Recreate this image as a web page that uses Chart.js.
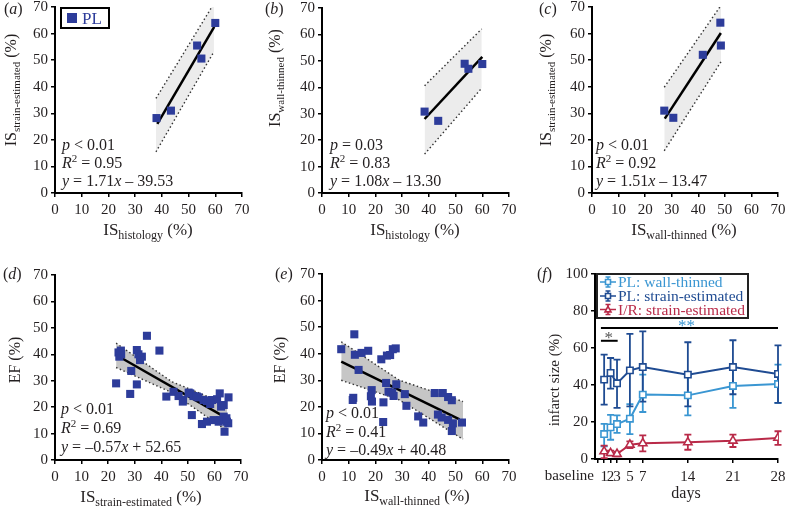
<!DOCTYPE html>
<html><head><meta charset="utf-8">
<script src="https://cdn.jsdelivr.net/npm/chart.js@4.4.1/dist/chart.umd.min.js"></script>
<style>
html,body{margin:0;padding:0;background:#fff;}
#wrap{position:relative;width:785px;height:511px;overflow:hidden;background:#fff;}
canvas{position:absolute;}
</style></head><body><div id="wrap"></div>
<script>
// ===== data =====
// (a) IS histology vs IS strain-estimated
const aX = [38.0, 43.4, 53.2, 54.8, 60.0];
const aY = [28.2, 31.0, 55.5, 50.6, 64.0];
const aFitX = [38.3, 59.6], aFitY = [26.0, 62.5];
const aCiX = [37.8, 59.5], aCiHi = [35.6, 71.3], aCiLo = [15.5, 53.2];
// (b) IS histology vs IS wall-thinned
const bX = [38.4, 43.5, 53.4, 54.8, 60.0];
const bY = [30.8, 27.3, 48.9, 47.0, 48.8];
const bFitX = [38.4, 60.0], bFitY = [28.0, 51.5];
const bCiX = [38.4, 59.8], bCiHi = [40.6, 62.1], bCiLo = [14.7, 39.7];
// (c) IS wall-thinned vs IS strain-estimated
const cX = [27.2, 30.6, 41.7, 48.3, 48.5];
const cY = [31.0, 28.3, 52.0, 64.1, 55.5];
const cFitX = [27.4, 48.5], cFitY = [28.0, 60.2];
const cCiX = [27.2, 48.6], cCiHi = [39.8, 70.7], cCiLo = [15.9, 49.5];
// (d) IS strain-estimated vs EF
const dX = [34.6,23.9,24.9,24.2,24.8,30.8,31.4,32.7,32.0,39.3,28.7,23.0,30.8,28.3,41.9,44.6,46.5,48.2,50.9,52.1,54.0,55.9,57.2,59.1,61.0,62.0,65.3,63.5,51.5,55.3,57.2,59.7,62.2,63.5,64.7,63.8,65.2,50.3,53.4,58.4,62.5,64.5,61.6,48.1];
const dY = [47.0,40.7,40.0,39.1,41.4,41.6,40.0,39.1,37.8,41.4,33.7,29.0,28.6,25.0,24.0,25.8,24.2,22.7,25.2,24.2,23.7,22.7,22.3,22.7,23.0,25.2,23.7,20.8,17.0,13.6,14.5,15.1,15.1,16.4,14.5,10.7,13.9,25.5,24.0,21.2,20.2,15.8,14.5,22.1];
const dFitX = [25.5, 62.8], dFitY = [38.3, 16.9];
const dCiX = [23.0, 44.0, 64.8], dCiHi = [44.2, 29.6, 21.0], dCiLo = [35.0, 25.5, 11.0];
// (e) IS wall-thinned vs EF
const eX = [7.2,12.1,12.3,14.8,17.3,13.7,11.7,11.5,18.6,18.3,18.7,22.2,23.0,22.9,24.3,25.5,26.5,27.6,24.0,24.9,26.3,26.8,27.8,31.0,31.6,36.0,37.9,42.2,45.2,43.4,44.8,47.2,48.6,47.2,49.0,48.6,52.4];
const eY = [41.7,47.3,39.6,40.3,41.1,33.9,23.4,22.6,26.3,24.0,22.0,37.9,21.7,14.3,39.3,39.5,41.7,42.0,29.0,25.7,25.3,24.1,28.5,24.8,20.4,16.4,14.1,25.2,25.2,17.1,16.0,23.7,22.5,15.1,13.8,10.9,14.1];
const eFitX = [7.2, 51.5], eFitY = [37.0, 15.3];
const eCiX = [7.2, 29.0, 52.8], eCiHi = [44.5, 30.0, 22.0], eCiLo = [30.0, 22.6, 7.8];
// (f) infarct size over time
const fDays = [1, 2, 3, 5, 7, 14, 21, 28];
const fTicks = [0, 1, 2, 3, 5, 7, 14, 21, 28];
const wallMean = [13.5, 17.1, 18.9, 21.8, 34.8, 34.4, 39.5, 40.5];
const wallLo   = [6.8, 10.4, 14.1, 13.5, 25.4, 23.6, 27.6, 30.3];
const wallHi   = [19.0, 23.9, 23.6, 29.7, 45.6, 45.2, 50.5, 51.0];
const strainMean = [42.9, 46.5, 40.9, 47.9, 49.7, 45.6, 49.7, 46.0];
const strainLo   = [29.4, 38.0, 27.6, 28.5, 31.0, 28.5, 35.0, 30.3];
const strainHi   = [56.4, 54.6, 53.7, 67.6, 69.0, 63.1, 64.2, 61.4];
const irMean = [4.1, 3.2, 2.7, 7.7, 8.5, 9.0, 9.9, 11.4];
const irLo   = [0.5, 2.0, 1.4, 5.9, 4.1, 5.0, 6.5, 7.6];
const irHi   = [7.2, 4.5, 4.0, 9.5, 12.8, 13.2, 13.2, 15.0];
const sigLong = {from: 0.5, to: 28, y: 70.8, label: '**'};
const sigShort = {from: 0.5, to: 3.1, y: 63.9, label: '*'};

// ===== styles =====
const FAM = '"Liberation Serif", "Times New Roman", serif';
const TXT = '#231f20';
const BLUE = '#2d3c9a';
const LB = '#3a96d2', DB = '#1f4b92', RD = '#b92a48';
const wrap = document.getElementById('wrap');

function fnt(p){ return (p.i ? 'italic ' : '') + (p.s || 16) + 'px ' + FAM; }
function rich(ctx, x, y, parts, o){
  o = o || {};
  ctx.save();
  ctx.translate(x, y);
  if (o.rot) ctx.rotate(-Math.PI / 2);
  ctx.textBaseline = 'alphabetic';
  ctx.textAlign = 'left';
  let w = 0;
  const ms = parts.map(p => { ctx.font = fnt(p); const m = ctx.measureText(p.t).width; w += m; return m; });
  let cx = o.align === 'center' ? -w / 2 : (o.align === 'right' ? -w : 0);
  parts.forEach((p, i) => {
    ctx.font = fnt(p); ctx.fillStyle = p.c || o.color || TXT;
    ctx.fillText(p.t, cx, p.dy || 0); cx += ms[i];
  });
  ctx.restore();
}
function isTitle(sub){ return [{t:'IS', s:17}, {t:sub, s:12, dy:4}, {t:' (%)', s:17}]; }
function isTitleV(sub){ return [{t:'IS', s:16}, {t:sub, s:11, dy:4}, {t:' (%)', s:16}]; }
function panelLabel(ctx, x, y, L){ rich(ctx, x, y, [{t:'(', s:16}, {t:L, s:16, i:1}, {t:')', s:16}]); }
function stats(ctx, x, yb, s){
  rich(ctx, x, yb[0], [{t:'p', i:1}, {t:' ' + s.p}]);
  rich(ctx, x, yb[1], [{t:'R', i:1}, {t:'2', s:11, dy:-6}, {t:' = ' + s.r2}]);
  rich(ctx, x, yb[2], [{t:'y', i:1}, {t:' = ' + s.a}, {t:'x', i:1}, {t:' ' + s.b}]);
}
const zip = (xs, ys) => xs.map((x, i) => ({x: x, y: ys[i]}));

function axis(min, max, step, extra){
  const o = {
    type: 'linear', min: min, max: max,
    ticks: {stepSize: step, font: {family: FAM, size: 15}, color: TXT, padding: 4, maxRotation: 0, minRotation: 0},
    grid: {drawOnChartArea: false, drawTicks: true, tickLength: 4, color: '#000', lineWidth: 1.5},
    border: {display: true, color: '#000', width: 2}
  };
  return Object.assign(o, extra || {});
}
const yTicks = step => ({ticks: {stepSize: step, font: {family: FAM, size: 15}, color: TXT, padding: 3}});

function makeChart(area, xAx, yAx, datasets, decorate, extraPlugins){
  const c = {l: area.l - 65, t: area.t - 25};
  c.w = Math.round(area.r - c.l + 30); c.h = Math.round(area.b - c.t + 60);
  const cv = document.createElement('canvas');
  cv.width = c.w; cv.height = c.h;
  cv.style.left = c.l + 'px'; cv.style.top = c.t + 'px';
  cv.style.width = c.w + 'px'; cv.style.height = c.h + 'px';
  wrap.appendChild(cv);
  xAx.afterFit = s => { s.height = c.t + c.h - area.b; };
  yAx.afterFit = s => { s.width = area.l - c.l; };
  new Chart(cv, {
    type: 'line',
    data: {datasets: datasets},
    options: {
      responsive: false, animation: false, devicePixelRatio: 1, events: [],
      layout: {padding: {top: area.t - c.t, right: c.l + c.w - area.r, left: 0, bottom: 0}},
      plugins: {legend: {display: false}, tooltip: {enabled: false}},
      scales: {x: xAx, y: yAx}
    },
    plugins: (extraPlugins || []).concat([{
      id: 'decor',
      afterDraw(ch){ const ctx = ch.ctx; ctx.save(); ctx.translate(-c.l, -c.t); decorate(ctx, ch, c); ctx.restore(); }
    }])
  });
}

function regSets(px, py, fx, fy, cx, chi, clo, band){
  return [
    {data: zip(px, py), showLine: false, pointStyle: 'rect', pointRadius: 5.7, pointBackgroundColor: BLUE, pointBorderWidth: 0, borderColor: BLUE},
    {data: zip(fx, fy), borderColor: '#000', borderWidth: 2.5, pointRadius: 0, fill: false, tension: 0},
    {data: zip(cx, chi), borderColor: '#333', borderWidth: 1.4, borderDash: [1.5, 2.5], pointRadius: 0, fill: false, tension: 0},
    {data: zip(cx, clo), borderColor: '#333', borderWidth: 1.4, borderDash: [1.5, 2.5], pointRadius: 0, fill: '-1', backgroundColor: band, tension: 0}
  ];
}

// ----- (a) -----
makeChart({l:55, t:7, r:242, b:193}, axis(0,70,10), axis(0,70,10,yTicks(10)),
  regSets(aX, aY, aFitX, aFitY, aCiX, aCiHi, aCiLo, '#ececec'),
  (ctx) => {
    panelLabel(ctx, 4, 14, 'a');
    rich(ctx, 148, 235, isTitle('histology'), {align:'center'});
    rich(ctx, 15.5, 90, isTitleV('strain-estimated'), {align:'center', rot:true});
    stats(ctx, 62, [150, 168, 186], {p:'< 0.01', r2:'0.95', a:'1.71', b:'– 39.53'});
    ctx.save(); ctx.strokeStyle = '#000'; ctx.lineWidth = 2; ctx.strokeRect(61, 8, 48, 20);
    ctx.fillStyle = BLUE; ctx.fillRect(67, 13, 10, 10); ctx.restore();
    rich(ctx, 82, 23.5, [{t:'PL', s:17}], {color: BLUE});
  });

// ----- (b) -----
makeChart({l:322, t:8, r:509, b:193}, axis(0,70,10), axis(0,70,10,yTicks(10)),
  regSets(bX, bY, bFitX, bFitY, bCiX, bCiHi, bCiLo, '#ececec'),
  (ctx) => {
    panelLabel(ctx, 265, 14, 'b');
    rich(ctx, 415, 235, isTitle('histology'), {align:'center'});
    rich(ctx, 280, 78, isTitleV('wall-thinned'), {align:'center', rot:true});
    stats(ctx, 330, [150, 168, 186], {p:'= 0.03', r2:'0.83', a:'1.08', b:'– 13.30'});
  });

// ----- (c) -----
makeChart({l:592, t:7, r:778, b:193}, axis(0,70,10), axis(0,70,10,yTicks(10)),
  regSets(cX, cY, cFitX, cFitY, cCiX, cCiHi, cCiLo, '#ececec'),
  (ctx) => {
    panelLabel(ctx, 539, 14, 'c');
    rich(ctx, 684, 235, isTitle('wall-thinned'), {align:'center'});
    rich(ctx, 551, 90, isTitleV('strain-estimated'), {align:'center', rot:true});
    stats(ctx, 596, [150, 168, 186], {p:'< 0.01', r2:'0.92', a:'1.51', b:'– 13.47'});
  });

// ----- (d) -----
makeChart({l:55, t:275, r:241, b:460}, axis(0,70,10), axis(0,70,10,yTicks(10)),
  regSets(dX, dY, dFitX, dFitY, dCiX, dCiHi, dCiLo, '#c6c6c6'),
  (ctx) => {
    panelLabel(ctx, 3, 279, 'd');
    rich(ctx, 141, 502, isTitle('strain-estimated'), {align:'center'});
    rich(ctx, 19.5, 360, [{t:'EF (%)', s:16}], {align:'center', rot:true});
    stats(ctx, 61, [414, 433, 452], {p:'< 0.01', r2:'0.69', a:'–0.57', b:'+ 52.65'});
  });

// ----- (e) -----
makeChart({l:322, t:274, r:509, b:460}, axis(0,70,10), axis(0,70,10,yTicks(10)),
  regSets(eX, eY, eFitX, eFitY, eCiX, eCiHi, eCiLo, '#c6c6c6'),
  (ctx) => {
    panelLabel(ctx, 275, 279, 'e');
    rich(ctx, 417, 501, isTitle('wall-thinned'), {align:'center'});
    rich(ctx, 285, 360, [{t:'EF (%)', s:16}], {align:'center', rot:true});
    stats(ctx, 326, [418, 437, 455], {p:'< 0.01', r2:'0.41', a:'–0.49', b:'+ 40.48'});
  });

// ----- (f) -----
const errorBars = {
  id: 'errorBars',
  beforeDatasetsDraw(ch){
    const ctx = ch.ctx, xs = ch.scales.x, ys = ch.scales.y;
    ch.data.datasets.forEach(ds => {
      if (!ds.errLo) return;
      ctx.save(); ctx.strokeStyle = ds.borderColor; ctx.lineWidth = 1.8;
      ds.data.forEach((p, j) => {
        const x = xs.getPixelForValue(p.x), y1 = ys.getPixelForValue(ds.errLo[j]), y2 = ys.getPixelForValue(ds.errHi[j]);
        ctx.beginPath();
        ctx.moveTo(x, y1); ctx.lineTo(x, y2);
        ctx.moveTo(x - 3.5, y1); ctx.lineTo(x + 3.5, y1);
        ctx.moveTo(x - 3.5, y2); ctx.lineTo(x + 3.5, y2);
        ctx.stroke();
      });
      ctx.restore();
    });
  }
};
function fSet(ys, lo, hi, col, style){
  return {data: zip(fDays, ys), errLo: lo, errHi: hi, borderColor: col, borderWidth: 2, tension: 0, fill: false,
    pointStyle: style, pointRadius: style === 'triangle' ? 4.8 : 4.5, pointBackgroundColor: '#fff', pointBorderColor: col, pointBorderWidth: 1.6};
}
const fx = axis(-0.42, 28, 1, {});
fx.ticks = {font:{family:FAM,size:15}, color:TXT, padding:5, autoSkip:false, maxRotation:0, minRotation:0,
  callback: v => (v === 0 ? '' : String(v))};
fx.afterBuildTicks = s => { s.ticks = fTicks.map(v => ({value: v})); };
const fy = axis(0, 100, 20, yTicks(20));
makeChart({l:595, t:274, r:778, b:459}, fx, fy,
  [fSet(wallMean, wallLo, wallHi, LB, 'rect'), fSet(strainMean, strainLo, strainHi, DB, 'rect'), fSet(irMean, irLo, irHi, RD, 'triangle')],
  (ctx, ch, c) => {
    const xs = ch.scales.x, ys = ch.scales.y;
    panelLabel(ctx, 537, 279, 'f');
    rich(ctx, 594, 480, [{t:'baseline', s:15}], {align:'right'});
    rich(ctx, 686, 498, [{t:'days', s:16}], {align:'center'});
    rich(ctx, 559, 380, [{t:'infarct size (%)', s:15}], {align:'center', rot:true});
    // significance bars
    ctx.save(); ctx.strokeStyle = '#000'; ctx.lineWidth = 2;
    [sigLong, sigShort].forEach(sg => {
      const x1 = xs.getPixelForValue(sg.from) + c.l, x2 = xs.getPixelForValue(sg.to) + c.l, y = ys.getPixelForValue(sg.y) + c.t;
      ctx.beginPath(); ctx.moveTo(x1, y); ctx.lineTo(x2, y); ctx.stroke();
    });
    ctx.restore();
    const yl = ys.getPixelForValue(sigLong.y) + c.t, ysh = ys.getPixelForValue(sigShort.y) + c.t;
    rich(ctx, xs.getPixelForValue(13.8) + c.l, yl + 3, [{t:sigLong.label, s:17}], {align:'center', color: LB});
    rich(ctx, xs.getPixelForValue(1.7) + c.l, ysh + 2, [{t:sigShort.label, s:17}], {align:'center', color: '#555'});
    // legend
    ctx.save(); ctx.fillStyle = '#fff'; ctx.fillRect(597, 274, 151, 44);
    ctx.strokeStyle = '#222'; ctx.lineWidth = 2; ctx.strokeRect(597, 274, 151, 44);
    const items = [{t:'PL: wall-thinned', c:LB, m:'rect', y:282}, {t:'PL: strain-estimated', c:DB, m:'rect', y:296}, {t:'I/R: strain-estimated', c:RD, m:'tri', y:309.5}];
    items.forEach(it => {
      ctx.strokeStyle = it.c; ctx.lineWidth = 1.6;
      ctx.beginPath(); ctx.moveTo(600, it.y); ctx.lineTo(616, it.y);
      ctx.moveTo(608, it.y - 5); ctx.lineTo(608, it.y + 5);
      ctx.moveTo(605.5, it.y - 5); ctx.lineTo(610.5, it.y - 5);
      ctx.moveTo(605.5, it.y + 5); ctx.lineTo(610.5, it.y + 5); ctx.stroke();
      ctx.fillStyle = '#fff';
      ctx.beginPath();
      if (it.m === 'rect') { ctx.rect(605.5, it.y - 2.5, 5, 5); }
      else { ctx.moveTo(608, it.y - 3.2); ctx.lineTo(611, it.y + 2.4); ctx.lineTo(605, it.y + 2.4); ctx.closePath(); }
      ctx.fill(); ctx.stroke();
      rich(ctx, 618, it.y + 5, [{t:it.t, s:15.5}], {color: it.c});
    });
    ctx.restore();
  }, [errorBars]);
</script></body></html>
